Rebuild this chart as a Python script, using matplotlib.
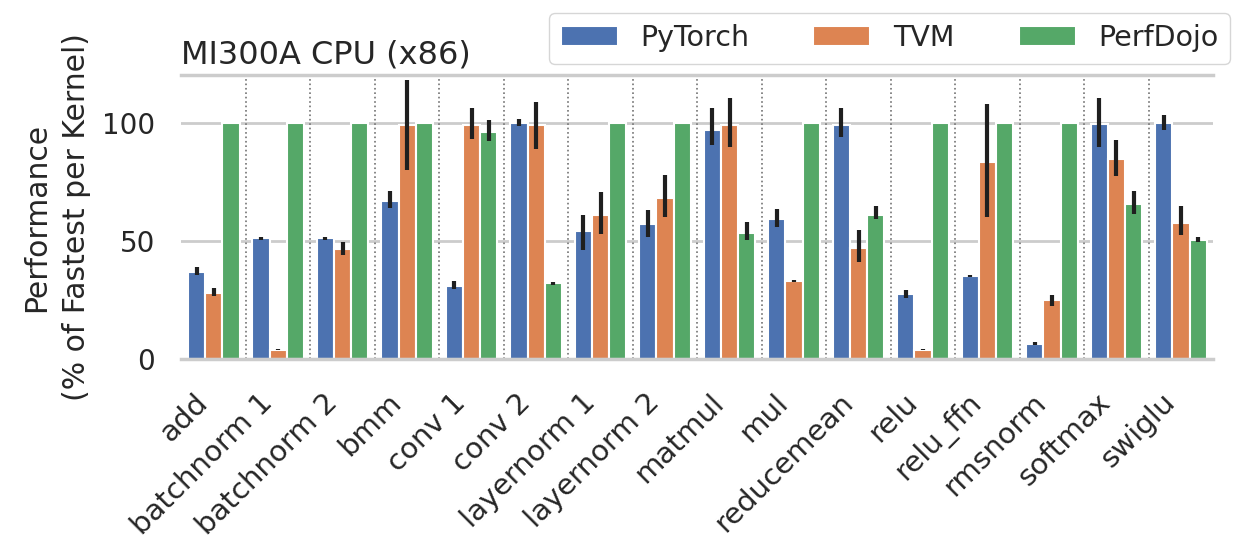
import numpy as np
import matplotlib
matplotlib.use('Agg')
import matplotlib.pyplot as plt

# kernels on the x axis
kernels = ['add', 'batchnorm 1', 'batchnorm 2', 'bmm', 'conv 1', 'conv 2',
           'layernorm 1', 'layernorm 2', 'matmul', 'mul', 'reducemean',
           'relu', 'relu_ffn', 'rmsnorm', 'softmax', 'swiglu']

# mean performance (% of fastest per kernel) and the error bar ends
pytorch = [37, 51, 51, 67, 31, 100, 54, 57, 97, 59, 99, 27.5, 35, 6.5, 99.5, 100]
pytorch_lo = [35.5, 50.5, 50.5, 64, 29.5, 98.5, 46, 51.5, 90.5, 56, 94, 26, 34.5, 6, 89.5, 97]
pytorch_hi = [39, 51.5, 51.5, 71, 33, 101.5, 61, 63, 106, 63.5, 106, 29, 35.5, 7, 110.5, 103]

tvm = [28, 4, 46.5, 99, 99, 99, 61, 68, 99, 33, 47, 4, 83.5, 25, 84.5, 57.5]
tvm_lo = [26.5, 3.8, 44, 80, 93, 89, 53, 60, 89.5, 32.5, 41, 3.8, 60, 22.5, 77.5, 52.5]
tvm_hi = [30, 4.4, 49.5, 118, 106, 108.5, 70.5, 78, 110.5, 33.5, 54.5, 4.4, 108, 27, 92.5, 64.5]

perfdojo = [100, 100, 100, 100, 96, 32, 100, 100, 53.5, 100, 61, 100, 100, 100, 65.5, 50.5]
perfdojo_lo = [100, 100, 100, 100, 92, 31.5, 100, 100, 50.5, 100, 59, 100, 100, 100, 61.5, 49.5]
perfdojo_hi = [100, 100, 100, 100, 101, 32.5, 100, 100, 58, 100, 64.5, 100, 100, 100, 71, 51.5]

series = [('PyTorch', pytorch, pytorch_lo, pytorch_hi, '#4C72B0'),
          ('TVM', tvm, tvm_lo, tvm_hi, '#DD8452'),
          ('PerfDojo', perfdojo, perfdojo_lo, perfdojo_hi, '#55A868')]

fig = plt.figure(figsize=(12.43, 5.49), dpi=100)
ax = fig.add_axes([0.146, 0.346, 0.830, 0.517])

x = np.arange(len(kernels))
w = 0.8 / 3
for i, (name, vals, lo, hi, col) in enumerate(series):
    vals = np.array(vals)
    pos = x + (i - 1) * w
    ax.bar(pos, vals, w, color=col, edgecolor='white', linewidth=1.5,
           label=name, zorder=2)
    yerr = [vals - np.array(lo), np.array(hi) - vals]
    ax.errorbar(pos, vals, yerr=yerr, fmt='none', ecolor='#1f1f1f',
                elinewidth=3, capsize=0, zorder=3)

# dotted separators between kernel groups
for b in x[:-1] + 0.5:
    ax.axvline(b, color='0.45', linestyle=':', linewidth=1.2, zorder=1)

ax.set_xlim(-0.5, len(kernels) - 0.5)
ax.set_ylim(0, 120)
ax.set_yticks([0, 50, 100])
ax.yaxis.grid(True, color='0.8', linewidth=2, zorder=0)
ax.set_axisbelow(True)
for s in ['left', 'right']:
    ax.spines[s].set_visible(False)
for s in ['top', 'bottom']:
    ax.spines[s].set_color('0.8')
    ax.spines[s].set_linewidth(2.5)
ax.tick_params(axis='y', length=0, labelsize=20, labelcolor='0.15', pad=19)
ax.tick_params(axis='x', length=0, labelsize=21, labelcolor='0.15', pad=21)

ax.set_xticks(x)
ax.set_xticklabels(kernels, rotation=45, ha='right')
ax.set_ylabel('Performance\n(% of Fastest per Kernel)', fontsize=21.5,
              color='0.15', labelpad=8, linespacing=1.45)
ax.set_title('MI300A CPU (x86)', loc='left', fontsize=23, color='0.15', pad=8.5)

fig.legend(loc='upper right', bbox_to_anchor=(0.9895, 0.9763), ncol=3,
           fontsize=20.5, frameon=True, edgecolor='0.8', fancybox=True,
           labelcolor='0.15', borderaxespad=0, columnspacing=2.25)

fig.savefig('out.png', dpi=100)
plt.close(fig)
